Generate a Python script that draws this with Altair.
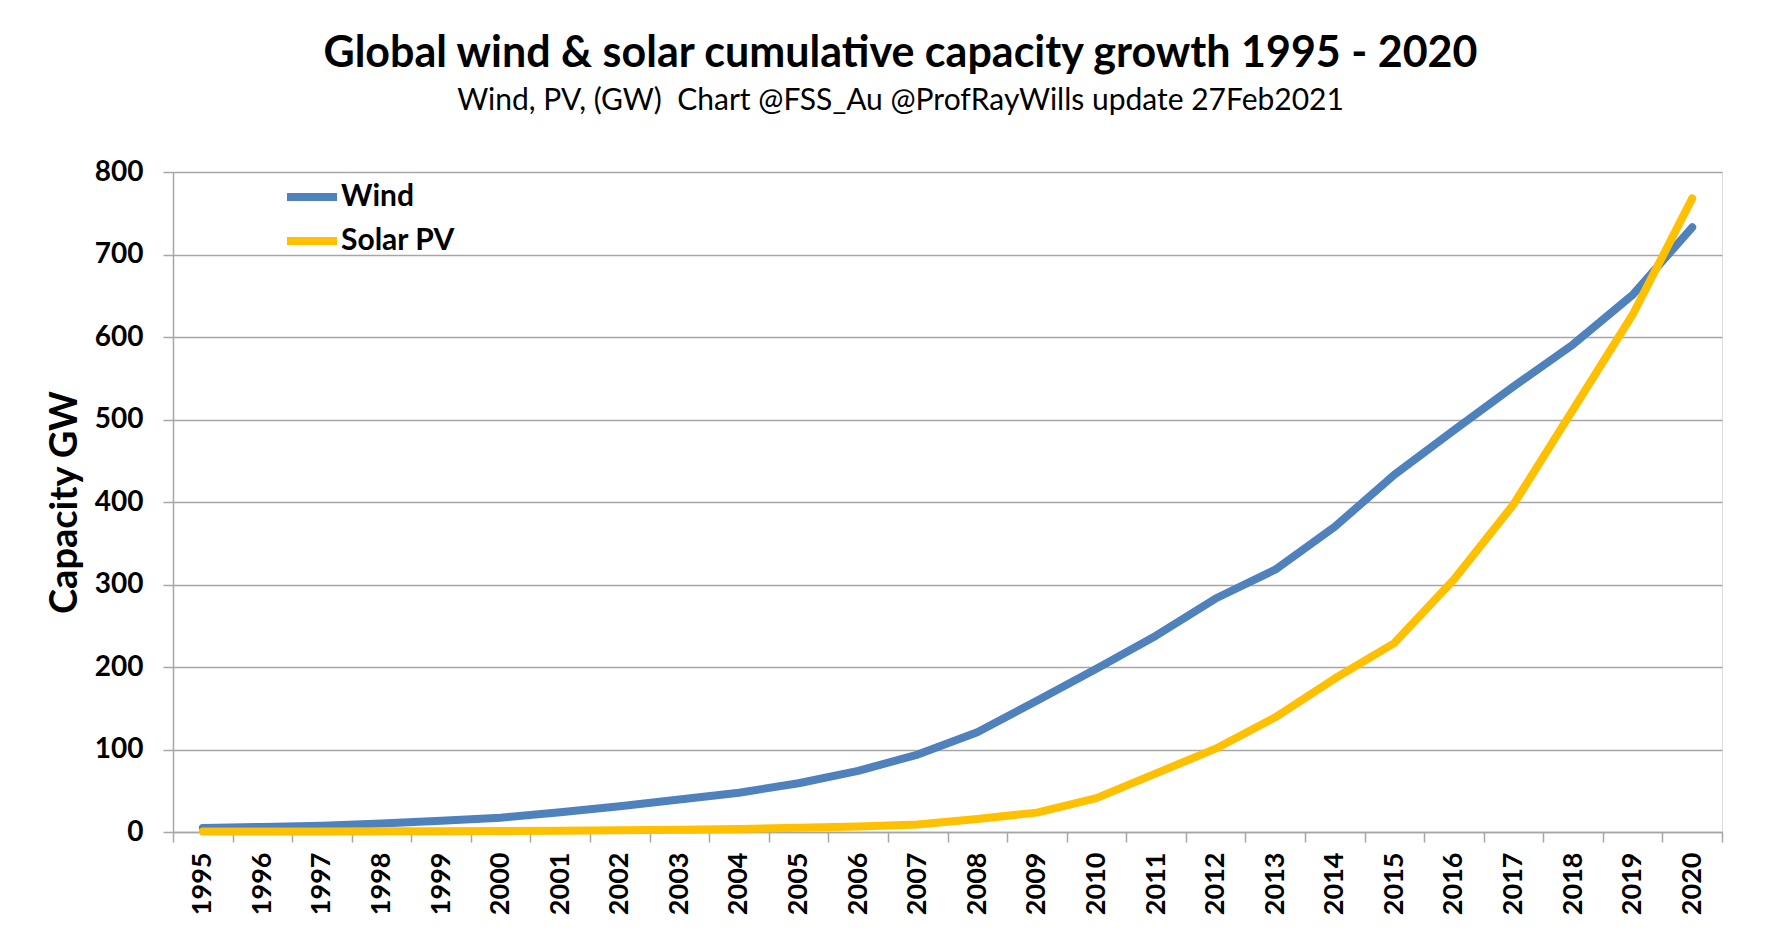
import altair as alt
import pandas as pd

years = [str(y) for y in range(1995, 2021)]
wind = [4.8, 6.1, 7.6, 10.2, 13.6, 17.4, 23.9, 31.1, 39.4, 47.6, 59.1, 74.1, 93.9,
        121, 159, 198, 238, 283, 318, 370, 433, 487, 540, 591, 651, 733]
solar = [0.5, 0.6, 0.7, 0.8, 1.0, 1.2, 1.5, 2.0, 2.6, 3.7, 5.1, 6.7, 9.0,
         15.8, 23.5, 41, 71, 101, 139, 186, 229, 306, 397, 512, 627, 768]
series_names = ["Wind", "Solar PV"]
colors = ["#4F81BD", "#FFC000"]
y_ticks = [0, 100, 200, 300, 400, 500, 600, 700, 800]

df = pd.DataFrame({
    "Year": years * 2,
    "GW": wind + solar,
    "Series": [series_names[0]] * len(years) + [series_names[1]] * len(years),
})

GRID = "#A6A6A6"

chart = alt.Chart(df).mark_line(
    strokeWidth=8, strokeCap="round", strokeJoin="round"
).encode(
    x=alt.X("Year:O", sort=years,
            scale=alt.Scale(type="band", paddingInner=0, paddingOuter=0),
            axis=alt.Axis(title=None, labelAngle=-90, labelFont="Lato",
                          labelFontWeight="bold", labelFontSize=27, labelColor="black",
                          tickBand="extent", ticks=True, tickSize=10, tickColor=GRID,
                          tickWidth=1.5, domainColor=GRID, domainWidth=1.5,
                          labelPadding=10, grid=False)),
    y=alt.Y("GW:Q", scale=alt.Scale(domain=[0, 800], nice=False),
            axis=alt.Axis(values=y_ticks, title="Capacity GW", titleFont="Lato",
                          titleFontSize=38, titleFontWeight="bold", titleColor="black",
                          titlePadding=10,
                          labelFont="Lato", labelFontSize=28, labelFontWeight="bold",
                          labelColor="black", labelPadding=20, tickSize=10,
                          tickColor=GRID, tickWidth=1.5, domainColor=GRID,
                          domainWidth=1.5, gridColor=GRID, gridWidth=1.5)),
    color=alt.Color("Series:N",
                    scale=alt.Scale(domain=series_names, range=colors),
                    legend=alt.Legend(orient="none", legendX=110, legendY=3,
                                      title=None, symbolType="stroke",
                                      symbolStrokeWidth=8, symbolSize=2500,
                                      labelFont="Lato", labelFontSize=30,
                                      labelFontWeight="bold", labelColor="black",
                                      labelOffset=0, clipHeight=44, rowPadding=0,
                                      padding=0)),
).properties(
    width=1549,
    height=660,
    autosize="none",
    padding={"left": 165, "top": 164, "right": 58, "bottom": 107},
    title=alt.TitleParams(
        text="Global wind & solar cumulative capacity growth 1995 - 2020",
        subtitle="Wind, PV, (GW)\u00a0 Chart @FSS_Au @ProfRayWills update 27Feb2021",
        font="Lato", fontSize=43, fontWeight="bold", color="black",
        subtitleFont="Lato", subtitleFontSize=30, subtitleColor="black",
        subtitlePadding=10, anchor="middle", frame="group", dx=-47, offset=42,
    ),
).configure_view(stroke=None).configure(background="white")

chart.save("out.html", embed_options={"renderer": "svg", "actions": False})
